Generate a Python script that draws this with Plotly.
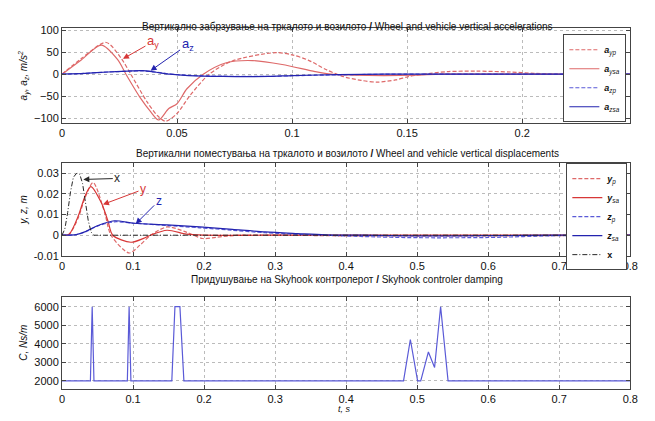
import plotly.graph_objects as go

# ---------------- data ----------------
# Top: accelerations
t_ysa = [0, 0.0085, 0.0171, 0.0242, 0.0278, 0.0342, 0.0385, 0.042, 0.0464, 0.05, 0.0543, 0.0614, 0.0714, 0.0828, 0.0957, 0.11, 0.117, 0.126, 0.14, 0.154, 0.165, 0.2, 0.247]
a_ysa = [0, 33, 66, 33, 0, -55, -85, -104, -78, -67, -33, 0, 26, 31, 22, 6, 0, -2, -3, -2, 0, 0, 0]
t_yp = [0, 0.0085, 0.0192, 0.0256, 0.0299, 0.037, 0.0415, 0.045, 0.05, 0.0557, 0.064, 0.074, 0.0928, 0.1, 0.107, 0.115, 0.122, 0.13, 0.137, 0.145, 0.151, 0.16, 0.168, 0.18, 0.195, 0.205, 0.215, 0.247]
a_yp = [0, 36, 72, 37, 0, -63, -94, -107, -89, -48, 0, 30, 49, 44, 32, 10, -5, -14, -18, -13, -5, 2, 6, 7, 5, 2, 0, 0]
t_z = [0, 0.01, 0.02, 0.03, 0.035, 0.04, 0.047, 0.055, 0.07, 0.09, 0.1, 0.12, 0.14, 0.247]
a_zsa = [0, 2, 5, 7.5, 8, 5, 0, -3, -5, -5, -3, -1, 0, 0]
a_zp = [0, 2, 5, 7, 7.5, 5.5, 0.5, -2.5, -4.5, -5, -3.5, -1.5, 0, 0]

# Middle: displacements
t_x = [0, 0.004, 0.008, 0.012, 0.016, 0.02, 0.0225, 0.025, 0.029, 0.033, 0.037, 0.041, 0.045, 0.06, 0.2, 0.8]
x_road = [0, 0.003, 0.011, 0.021, 0.028, 0.0298, 0.030, 0.0295, 0.025, 0.016, 0.007, 0.0015, 0, 0, 0, 0]
t_ysd = [0, 0.01, 0.023, 0.0323, 0.0406, 0.0554, 0.0646, 0.0715, 0.097, 0.115, 0.1246, 0.148, 0.175, 0.2, 0.3, 0.8]
y_sa = [0, 0.0005, 0.0094, 0.0188, 0.0235, 0.0157, 0.007, 0, -0.0034, -0.0015, 0, 0.0024, 0.0005, 0, 0, 0]
t_ypd = [0, 0.01, 0.023, 0.0323, 0.0438, 0.06, 0.069, 0.0946, 0.11, 0.125, 0.148, 0.175, 0.198, 0.217, 0.25, 0.4, 0.6, 0.8]
y_p = [0, 0.0005, 0.0085, 0.018, 0.0255, 0.011, 0, -0.0086, -0.0047, 0, 0.004, 0.0015, -0.0016, -0.001, 0, -0.0003, -0.0003, 0]
t_zd = [0, 0.02, 0.032, 0.0508, 0.0738, 0.1015, 0.148, 0.194, 0.24, 0.286, 0.332, 0.37, 0.42, 0.5, 0.6, 0.7, 0.8]
z_sa = [0, 0.0003, 0.0016, 0.0047, 0.007, 0.0058, 0.005, 0.004, 0.0028, 0.0016, 0.0008, 0.0002, 0, -0.0003, -0.0002, 0, 0]
z_p = [0, 0.0003, 0.0015, 0.0045, 0.0065, 0.0058, 0.0047, 0.0036, 0.0024, 0.0012, 0.0004, 0, -0.0006, -0.0012, -0.0011, -0.0002, 0]

# Bottom: damping
t_c = [0, 0.040, 0.0425, 0.045, 0.092, 0.0945, 0.097, 0.1546, 0.159, 0.166, 0.1716, 0.4808, 0.4904, 0.5006, 0.505, 0.5158, 0.5245, 0.533, 0.5435, 0.8]
c_damp = [2000, 2000, 6000, 2000, 2000, 6000, 2000, 2000, 6000, 6000, 2000, 2000, 4230, 2000, 2000, 3560, 2720, 6000, 2000, 2000]

top_ticks = [0, 0.05, 0.1, 0.15, 0.2]
top_ticktext = ["0", "0.05", "0.1", "0.15", "0.2"]
low_ticks = [0, 0.1, 0.2, 0.3, 0.4, 0.5, 0.6, 0.7, 0.8]
low_ticktext = ["0", "0.1", "0.2", "0.3", "0.4", "0.5", "0.6", "0.7", "0.8"]

RED = "rgb(215,55,55)"
RED_L = "rgb(222,105,105)"
BLUE = "rgb(35,35,175)"
BLUE_L = "rgb(90,90,215)"
BLACK = "rgb(40,40,40)"
DASH = "4px,2px"

W, H = 655, 421

def px_x(a, b):
    return [a / W, b / W]

def px_y(top, bottom):
    return [(H - bottom) / H, (H - top) / H]

def pxx(x):
    return x / W

def pxy(y):
    return (H - y) / H

fig = go.Figure()
SM = 0.8

# top traces
fig.add_trace(go.Scatter(x=t_yp, y=a_yp, mode="lines", line=dict(color=RED_L, dash=DASH, width=1.2, shape="spline", smoothing=SM),
                         name="<b><i>a</i></b><sub><i>yp</i></sub>", xaxis="x", yaxis="y", legend="legend"))
fig.add_trace(go.Scatter(x=t_ysa, y=a_ysa, mode="lines", line=dict(color=RED_L, width=1.2, shape="spline", smoothing=SM),
                         name="<b><i>a</i></b><sub><i>ysa</i></sub>", xaxis="x", yaxis="y", legend="legend"))
fig.add_trace(go.Scatter(x=t_z, y=a_zp, mode="lines", line=dict(color=BLUE_L, dash=DASH, width=1.2, shape="spline", smoothing=SM),
                         name="<b><i>a</i></b><sub><i>zp</i></sub>", xaxis="x", yaxis="y", legend="legend"))
fig.add_trace(go.Scatter(x=t_z, y=a_zsa, mode="lines", line=dict(color=BLUE, width=1.2, shape="spline", smoothing=SM),
                         name="<b><i>a</i></b><sub><i>zsa</i></sub>", xaxis="x", yaxis="y", legend="legend"))

# middle traces
fig.add_trace(go.Scatter(x=t_ypd, y=y_p, mode="lines", line=dict(color=RED_L, dash=DASH, width=1.2, shape="spline", smoothing=SM),
                         name="<b><i>y</i></b><sub><i>p</i></sub>", xaxis="x2", yaxis="y2", legend="legend2"))
fig.add_trace(go.Scatter(x=t_ysd, y=y_sa, mode="lines", line=dict(color=RED, width=1.2, shape="spline", smoothing=SM),
                         name="<b><i>y</i></b><sub><i>sa</i></sub>", xaxis="x2", yaxis="y2", legend="legend2"))
fig.add_trace(go.Scatter(x=t_zd, y=z_p, mode="lines", line=dict(color=BLUE_L, dash=DASH, width=1.2, shape="spline", smoothing=SM),
                         name="<b><i>z</i></b><sub><i>p</i></sub>", xaxis="x2", yaxis="y2", legend="legend2"))
fig.add_trace(go.Scatter(x=t_zd, y=z_sa, mode="lines", line=dict(color=BLUE, width=1.2, shape="spline", smoothing=SM),
                         name="<b><i>z</i></b><sub><i>sa</i></sub>", xaxis="x2", yaxis="y2", legend="legend2"))
fig.add_trace(go.Scatter(x=t_x, y=x_road, mode="lines", line=dict(color=BLACK, dash="5px,2px,1px,2px", width=1),
                         name="<b>x</b>", xaxis="x2", yaxis="y2", legend="legend2"))

# bottom trace
fig.add_trace(go.Scatter(x=t_c, y=c_damp, mode="lines", line=dict(color=BLUE_L, width=1.2),
                         showlegend=False, xaxis="x3", yaxis="y3"))

tickfont = dict(family="Arial, Liberation Sans", size=11, color="#111")
common_ax = dict(showline=True, linecolor="#444", linewidth=1, mirror="ticks", ticks="inside", ticklen=4,
                 tickcolor="#444", showgrid=True, gridcolor="#bbb", griddash="dot", gridwidth=1,
                 zeroline=False, tickfont=tickfont)

legend_common = dict(xanchor="right", yanchor="top", bordercolor="#444", borderwidth=1,
                     bgcolor="white", tracegroupgap=0, itemwidth=30, font=dict(size=9))

fig.update_layout(
    width=W, height=H, margin=dict(l=0, r=0, t=0, b=0),
    paper_bgcolor="white", plot_bgcolor="white",
    font=dict(family="Arial, Liberation Sans", size=11, color="#111"),
    xaxis=dict(domain=px_x(60, 638), range=[0, 0.247], tickvals=top_ticks, ticktext=top_ticktext, anchor="y", **common_ax),
    yaxis=dict(domain=px_y(25, 122), range=[-111, 104], tickvals=[-100, -50, 0, 50, 100], anchor="x",
               title=dict(text="<i>a<sub>y</sub>, a<sub>z</sub>, m/s<sup>2</sup></i>", font=dict(size=10), standoff=4), **common_ax),
    xaxis2=dict(domain=px_x(60, 638), range=[0, 0.8], tickvals=low_ticks, ticktext=low_ticktext, anchor="y2", **common_ax),
    yaxis2=dict(domain=px_y(163, 258), range=[-0.01, 0.0349], tickvals=[-0.01, 0, 0.01, 0.02, 0.03],
                ticktext=["-0.01", "0", "0.01", "0.02", "0.03"], anchor="x2",
                title=dict(text="<i>y, z, m</i>", font=dict(size=10), standoff=4), **common_ax),
    xaxis3=dict(domain=px_x(60, 638), range=[0, 0.8], tickvals=low_ticks, ticktext=low_ticktext, anchor="y3", **common_ax),
    yaxis3=dict(domain=px_y(300, 394), range=[1580, 6530], tickvals=[2000, 3000, 4000, 5000, 6000], anchor="x3",
                title=dict(text="<i>C, Ns/m</i>", font=dict(size=10), standoff=4), **common_ax),
    legend=dict(x=pxx(634), y=pxy(31), **legend_common),
    legend2=dict(x=pxx(635), y=pxy(163), **legend_common),
)

title_font = dict(family="Arial, Liberation Sans", size=10, color="#111")
fig.add_annotation(text="Вертикално забрзување на тркалото и возилото <b>/</b> Wheel and vehicle vertical accelerations",
                   xref="paper", yref="paper", x=pxx(350), y=pxy(15), showarrow=False, font=title_font)
fig.add_annotation(text="Вертикални поместувања на тркалото и возилото <b>/</b> Wheel and vehicle vertical displacements",
                   xref="paper", yref="paper", x=pxx(350), y=pxy(153), showarrow=False, font=title_font)
fig.add_annotation(text="Придушување на Skyhook контролерот <b>/</b> Skyhook controler damping",
                   xref="paper", yref="paper", x=pxx(350), y=pxy(290), showarrow=False, font=title_font)
fig.add_annotation(text="<i>t, s</i>", xref="paper", yref="paper", x=pxx(347), y=pxy(415), yanchor="middle",
                   showarrow=False, font=dict(size=9, color="#111"))

# curve labels with arrows
fig.add_annotation(text="a<sub>y</sub>", x=0.0265, y=35, xref="x", yref="y", ax=30, ay=-17,
                   font=dict(size=13, color=RED), arrowcolor=RED, arrowhead=2, arrowwidth=1, arrowsize=1.2)
fig.add_annotation(text="a<sub>z</sub>", x=0.0385, y=8, xref="x", yref="y", ax=37, ay=-26,
                   font=dict(size=13, color=BLUE), arrowcolor=BLUE, arrowhead=2, arrowwidth=1, arrowsize=1.2)
fig.add_annotation(text="x", x=0.030, y=0.027, xref="x2", yref="y2", ax=34, ay=-1,
                   font=dict(size=12, color=BLACK), arrowcolor=BLACK, arrowhead=2, arrowwidth=1, arrowsize=1.2)
fig.add_annotation(text="y", x=0.0577, y=0.0149, xref="x2", yref="y2", ax=40, ay=-15,
                   font=dict(size=12, color=RED), arrowcolor=RED, arrowhead=2, arrowwidth=1, arrowsize=1.2)
fig.add_annotation(text="z", x=0.1038, y=0.0055, xref="x2", yref="y2", ax=23, ay=-23,
                   font=dict(size=12, color=BLUE), arrowcolor=BLUE, arrowhead=2, arrowwidth=1, arrowsize=1.2)

fig.write_html("out.html", config={"displayModeBar": False},
               post_script="document.body.style.margin='0px';document.body.style.overflow='hidden';")
